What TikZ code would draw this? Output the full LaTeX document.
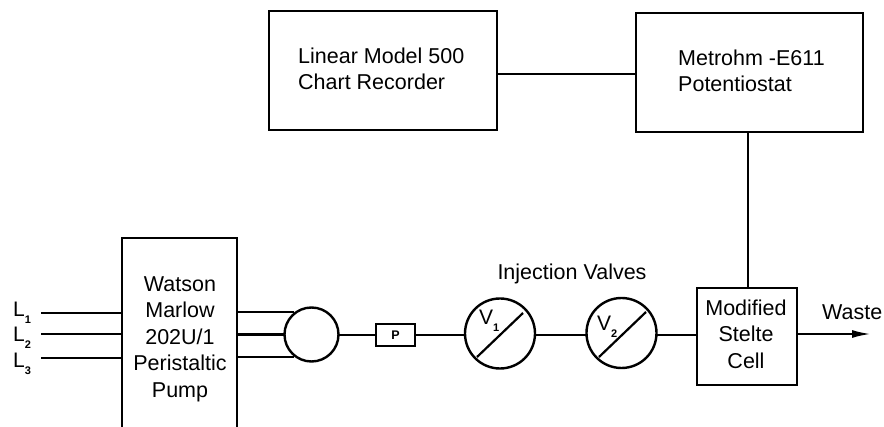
\documentclass[tikz,border=0pt]{standalone}
\usepackage{fontspec}
\usetikzlibrary{arrows.meta}
\setmainfont{Liberation Sans}
\newcommand{\subdigit}[1]{\raisebox{-7pt}{\fontsize{11}{11}\selectfont\bfseries #1}}
\begin{document}
\begin{tikzpicture}[x=1pt,y=-1pt,
  line/.style={line width=2.2pt},
  blockbox/.style={draw,line width=2.6pt,inner sep=0pt,outer sep=0pt,anchor=north west,align=center},
  lbl/.style={inner sep=0pt,font=\fontsize{21.5}{26.5}\selectfont,align=center},
  circ/.style={draw,circle,line width=2.4pt,inner sep=0pt,outer sep=0pt},
  sublbl/.style={inner sep=0pt,anchor=base west,font=\fontsize{21}{21}\selectfont}]
\useasboundingbox (0,0) rectangle (884,427);
\node[blockbox,minimum width=228pt,minimum height=119pt] (rec) at (269,11) {};
\node[blockbox,minimum width=227pt,minimum height=119pt] (pot) at (636,13) {};
\node[lbl,align=left,anchor=west] (rect) at (298,69) {Linear Model 500\\Chart Recorder};
\node[lbl,align=left,anchor=west] (pott) at (678,71) {Metrohm -E611\\Potentiostat};
\coordinate (pbl) at (122,427);
\coordinate (pbr) at (237,427);
\coordinate (ptl) at (122,238);
\coordinate (ptr) at (237,238);
\draw[line width=2.6pt] (pbl) -- (ptl) -- (ptr) -- (pbr);
\node[lbl] (pumpt) at (180,339) {Watson\\Marlow\\202U/1\\Peristaltic\\Pump};
\node[circ,minimum size=54pt] (mix) at (311.5,334.5) {};
\node[draw,line width=2.2pt,outer sep=0pt,minimum width=39pt,minimum height=22pt,inner sep=0pt,font=\bfseries\fontsize{12.5}{12.5}\selectfont] (pp) at (395.5,335) {P};
\node[circ,minimum size=70pt] (v1) at (500,333.5) {};
\node[circ,minimum size=70pt] (v2) at (621.5,333) {};
\coordinate (a1) at (477,357);
\coordinate (b1) at (523,313);
\coordinate (a2) at (599,357);
\coordinate (b2) at (646,312);
\draw[line] (a1) -- (b1);
\draw[line] (a2) -- (b2);
\node[blockbox,minimum width=100pt,minimum height=97pt] (cell) at (697,288) {};
\node[lbl] (cellt) at (746,334) {Modified\\Stelte\\Cell};
\node[lbl] (inj) at (572,274) {Injection Valves};
\node[lbl,anchor=west] (waste) at (822,312) {Waste};
\node[sublbl] (v1t) at (479,325) {V\subdigit{1}};
\node[sublbl] (v2t) at (597,331) {V\subdigit{2}};
\node[sublbl] (ll1) at (13,317) {L\subdigit{1}};
\node[sublbl] (ll2) at (13,342) {L\subdigit{2}};
\node[sublbl] (ll3) at (13,368) {L\subdigit{3}};
\coordinate (l1) at (41,313);
\coordinate (l2) at (41,334);
\coordinate (l3) at (41,358);
\draw[line] (l1) -- (l1-|ptl);
\draw[line] (l2) -- (l2-|ptl);
\draw[line] (l3) -- (l3-|ptl);
\coordinate (r1) at (237,312);
\coordinate (r2) at (237,334.5);
\coordinate (r3) at (237,357);
\draw[line] (r1) -- (r1-|mix.130);
\draw[line] (r2) -- (mix.west);
\draw[line] (r3) -- (r3-|mix.230);
\coordinate (m) at (338,335);
\draw[line] (m) -- (m-|pp.west);
\draw[line] (m-|pp.east) -- (m-|v1.west);
\draw[line] (m-|v1.east) -- (m-|v2.west);
\draw[line] (m-|v2.east) -- (m-|cell.west);
\coordinate (recout) at (497,74);
\draw[line] (recout) -- (recout-|pot.west);
\coordinate (potdown) at (748,132);
\draw[line] (potdown) -- (potdown|-cell.north);
\coordinate (wasteend) at (871,334);
\draw[line,-{Latex[length=19pt,width=8pt]}] (wasteend-|cell.east) -- (wasteend);
\end{tikzpicture}
\end{document}
